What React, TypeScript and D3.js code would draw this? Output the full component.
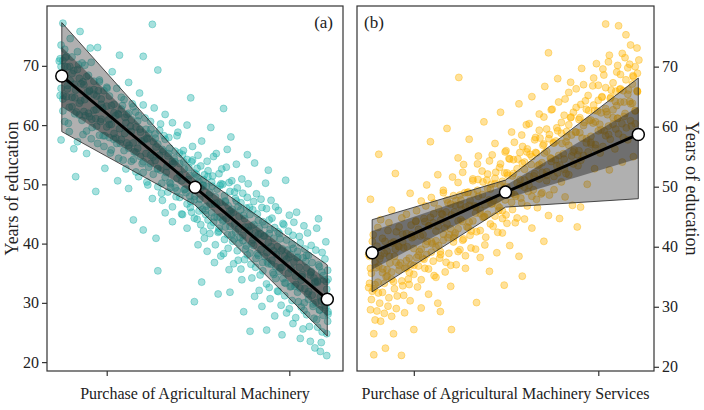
import { useEffect, useRef } from 'react';
import * as d3 from 'd3';

const yTicks = [20, 30, 40, 50, 60, 70];
const xTicks = [0, 1];

// (a) Purchase of Agricultural Machinery
const machineryFitX = [-0.246, 0.484, 1.208];
const machineryFit = [68.3, 49.5, 30.6];
const machineryOuterLo = [58.9, 46.5, 24.4];
const machineryOuterHi = [77.3, 52.1, 36.4];
const machineryInnerLo = [63.1, 48.3, 27.7];
const machineryInnerHi = [73.2, 50.8, 33.9];
const machineryPoints: [number, number][] = [
  [-0.26, 70.8], [-0.25, 73.5], [-0.25, 66.2], [-0.24, 62.4], [-0.25, 57.5], [-0.24, 77.2], [-0.23, 69.9], [-0.22, 64.8],
  [-0.22, 71.6], [-0.21, 60.3], [-0.2, 67.5], [-0.2, 74.6], [-0.19, 63.1], [-0.18, 56.0], [-0.18, 69.2], [-0.17, 51.3],
  [-0.17, 65.9], [-0.16, 72.4], [-0.15, 61.7], [-0.146, 75.8], [-0.14, 67.0], [-0.13, 58.4], [-0.12, 64.3], [-0.12, 70.1],
  [-0.11, 55.2], [-0.1, 62.0], [-0.1, 68.4], [-0.09, 73.0], [-0.08, 59.6], [-0.07, 65.2], [-0.06, 48.8], [-0.06, 61.1],
  [-0.05, 73.1], [-0.05, 56.9], [-0.04, 67.3], [-0.03, 63.5], [-0.02, 58.2], [-0.01, 52.7], [0, 66.4], [0.01, 60.9],
  [0.02, 55.3], [0.03, 69.0], [0.04, 62.1], [0.05, 57.8], [0.06, 50.6], [0.07, 71.8], [0.07, 59.4], [0.08, 64.7],
  [0.09, 54.1], [0.1, 61.3], [0.11, 57.0], [0.12, 67.2], [0.12, 49.3], [0.13, 59.8], [0.14, 63.6], [0.146, 44.0],
  [0.15, 55.5], [0.16, 52.1], [0.17, 60.7], [0.18, 65.4], [0.19, 57.3], [0.2, 71.6], [0.2, 42.3], [0.2, 53.8],
  [0.21, 61.2], [0.22, 50.4], [0.23, 58.6], [0.24, 54.9], [0.25, 77.0], [0.25, 47.6], [0.26, 62.9], [0.27, 40.9],
  [0.27, 56.3], [0.28, 35.4], [0.28, 69.3], [0.28, 52.7], [0.29, 59.1], [0.3, 48.5], [0.31, 55.6], [0.32, 61.8],
  [0.32, 45.2], [0.33, 53.0], [0.34, 57.9], [0.35, 50.1], [0.36, 43.7], [0.36, 60.4], [0.37, 54.3], [0.38, 47.9],
  [0.39, 58.8], [0.4, 51.6], [0.41, 45.0], [0.42, 55.7], [0.43, 49.2], [0.44, 60.0], [0.44, 42.6], [0.45, 52.8],
  [0.46, 64.6], [0.46, 47.1], [0.47, 56.4], [0.48, 30.2], [0.48, 44.3], [0.49, 51.7], [0.5, 39.8], [0.5, 54.9],
  [0.51, 47.5], [0.52, 33.5], [0.52, 57.3], [0.53, 42.1], [0.53, 50.8], [0.54, 45.6], [0.55, 53.9], [0.55, 38.7],
  [0.56, 48.2], [0.57, 59.6], [0.57, 43.0], [0.58, 51.4], [0.59, 36.8], [0.59, 46.7], [0.6, 55.2], [0.61, 31.5],
  [0.61, 41.9], [0.62, 49.8], [0.62, 44.5], [0.63, 52.6], [0.64, 62.8], [0.64, 38.3], [0.65, 47.0], [0.65, 42.8],
  [0.66, 55.9], [0.67, 35.6], [0.67, 50.3], [0.675, 31.8], [0.68, 58.0], [0.68, 45.1], [0.69, 40.4], [0.7, 48.7],
  [0.7, 43.3], [0.71, 53.4], [0.72, 37.2], [0.72, 46.3], [0.73, 41.0], [0.74, 50.9], [0.74, 33.9], [0.75, 28.5],
  [0.75, 44.8], [0.76, 39.1], [0.77, 47.8], [0.77, 55.0], [0.78, 42.2], [0.785, 25.2], [0.79, 36.5], [0.8, 45.7],
  [0.8, 40.6], [0.81, 53.6], [0.81, 31.1], [0.82, 48.4], [0.83, 38.0], [0.83, 43.9], [0.84, 34.7], [0.85, 46.1],
  [0.85, 29.4], [0.86, 41.3], [0.87, 50.2], [0.876, 25.4], [0.88, 36.9], [0.885, 52.4], [0.89, 44.0], [0.89, 32.6],
  [0.9, 39.5], [0.9, 47.3], [0.91, 35.1], [0.92, 42.7], [0.92, 27.8], [0.93, 38.2], [0.94, 45.6], [0.94, 31.9],
  [0.95, 40.8], [0.96, 36.0], [0.96, 24.6], [0.97, 43.2], [0.98, 50.7], [0.98, 33.3], [0.99, 38.9], [1.0, 44.8],
  [1.0, 29.0], [1.01, 35.7], [1.02, 41.4], [1.02, 26.5], [1.03, 32.8], [1.04, 45.3], [1.04, 37.6], [1.05, 30.2],
  [1.06, 40.1], [1.06, 24.0], [1.07, 34.4], [1.08, 43.0], [1.08, 28.7], [1.09, 37.0], [1.1, 31.5], [1.1, 41.8],
  [1.11, 26.0], [1.12, 35.3], [1.12, 39.7], [1.13, 29.8], [1.14, 22.4], [1.14, 33.6], [1.15, 42.6], [1.15, 27.2],
  [1.16, 44.2], [1.16, 36.4], [1.17, 21.8], [1.17, 31.0], [1.18, 38.5], [1.18, 25.1], [1.19, 33.9], [1.2, 29.2],
  [1.2, 40.3], [1.205, 21.1], [1.21, 35.5], [1.21, 26.9],
  [-0.255, 71.2], [-0.255, 65.0], [-0.24, 64.4], [-0.24, 70.9], [-0.23, 72.8], [-0.23, 60.6], [-0.215, 66.1], [-0.215, 69.8],
  [-0.205, 63.0], [-0.205, 58.9], [-0.19, 68.7], [-0.19, 71.5], [-0.175, 61.9], [-0.175, 64.6], [-0.16, 69.4], [-0.16, 57.2],
  [-0.15, 63.7], [-0.15, 67.9], [-0.135, 60.8], [-0.135, 70.5], [-0.125, 66.8], [-0.125, 62.3], [-0.11, 59.0], [-0.11, 68.2],
  [-0.095, 65.7], [-0.095, 61.4], [-0.085, 70.6], [-0.085, 57.7], [-0.07, 62.5], [-0.07, 66.0], [-0.055, 59.8], [-0.055, 64.9],
  [-0.04, 67.6], [-0.04, 58.3], [-0.03, 61.0], [-0.03, 64.4], [-0.015, 56.4], [-0.015, 65.8], [0, 59.7], [0, 63.2],
  [0.015, 64.9], [0.015, 57.9], [0.025, 60.1], [0.025, 55.8], [0.04, 63.5], [0.04, 58.6], [0.055, 66.2], [0.055, 56.9],
  [0.065, 54.4], [0.065, 61.8], [0.08, 57.6], [0.08, 62.7], [0.095, 64.3], [0.095, 55.7], [0.105, 52.6], [0.105, 60.4],
  [0.12, 62.0], [0.12, 56.1], [0.135, 53.9], [0.135, 60.9], [0.145, 57.0], [0.145, 63.1], [0.16, 55.4], [0.16, 59.7],
  [0.175, 51.3], [0.175, 61.6], [0.185, 58.8], [0.185, 54.7], [0.2, 63.4], [0.2, 52.0], [0.215, 55.2], [0.215, 59.3],
  [0.225, 49.9], [0.225, 57.7], [0.24, 60.6], [0.24, 53.5], [0.255, 51.7], [0.255, 57.2], [0.265, 54.0], [0.265, 58.5],
  [0.28, 49.6], [0.28, 56.8], [0.295, 60.2], [0.295, 52.4], [0.305, 47.3], [0.305, 55.9], [0.32, 51.2], [0.32, 57.6],
  [0.335, 54.8], [0.335, 48.7], [0.345, 50.3], [0.345, 56.1], [0.36, 46.2], [0.36, 53.9], [0.375, 55.6], [0.375, 49.4],
  [0.385, 51.0], [0.385, 58.2], [0.4, 47.8], [0.4, 53.5], [0.415, 55.0], [0.415, 44.9], [0.425, 49.1], [0.425, 52.6],
  [0.44, 46.7], [0.44, 54.2], [0.455, 51.5], [0.455, 48.0], [0.465, 53.8], [0.465, 45.3], [0.48, 47.4], [0.48, 51.9],
  [0.495, 52.7], [0.495, 44.1], [0.505, 46.6], [0.505, 50.5], [0.515, 53.1], [0.515, 43.2], [0.525, 49.9], [0.525, 45.8],
  [0.535, 51.6], [0.535, 40.9], [0.545, 46.3], [0.545, 49.7], [0.555, 44.0], [0.555, 52.3], [0.565, 48.6], [0.565, 41.7],
  [0.575, 45.2], [0.575, 50.4], [0.585, 54.7], [0.585, 43.6], [0.595, 47.9], [0.595, 39.8], [0.605, 44.4], [0.605, 49.2],
  [0.615, 51.8], [0.615, 42.6], [0.625, 47.0], [0.625, 37.9], [0.635, 43.8], [0.635, 50.0], [0.645, 48.1], [0.645, 40.7],
  [0.655, 44.2], [0.655, 52.9], [0.665, 46.4], [0.665, 39.2], [0.675, 42.9], [0.675, 48.8], [0.685, 50.6], [0.685, 41.5],
  [0.695, 45.3], [0.695, 36.6], [0.705, 42.0], [0.705, 47.6], [0.715, 49.4], [0.715, 38.8], [0.725, 44.6], [0.725, 40.1],
  [0.735, 46.9], [0.735, 35.7], [0.745, 41.4], [0.745, 48.5], [0.755, 44.2], [0.755, 37.3], [0.765, 39.6], [0.765, 46.0],
  [0.775, 50.1], [0.775, 42.8], [0.785, 38.4], [0.785, 44.9], [0.795, 34.2], [0.795, 43.0], [0.805, 47.1], [0.805, 39.7],
  [0.815, 41.8], [0.815, 36.0], [0.825, 45.0], [0.825, 38.3], [0.835, 32.1], [0.835, 42.6], [0.845, 39.0], [0.845, 47.5],
  [0.855, 43.7], [0.855, 35.4], [0.865, 37.8], [0.865, 41.3], [0.875, 45.9], [0.875, 33.2], [0.885, 40.2], [0.885, 36.6],
  [0.895, 42.4], [0.895, 30.7], [0.905, 37.2], [0.905, 44.3], [0.915, 40.9], [0.915, 34.8], [0.925, 36.1], [0.925, 46.2],
  [0.935, 39.5], [0.935, 32.0], [0.945, 41.7], [0.945, 35.3], [0.955, 29.6], [0.955, 38.8], [0.965, 43.4], [0.965, 34.1],
  [0.975, 37.9], [0.975, 31.2], [0.985, 40.6], [0.985, 28.3], [0.995, 35.0], [0.995, 42.1], [1.005, 38.2], [1.005, 32.7],
  [1.015, 30.4], [1.015, 39.9], [1.025, 36.9], [1.025, 43.6], [1.035, 33.1], [1.035, 27.5], [1.045, 38.7], [1.045, 31.8],
  [1.055, 36.0], [1.055, 41.2], [1.065, 29.3], [1.065, 33.8], [1.075, 37.6], [1.075, 25.6], [1.085, 32.4], [1.085, 39.1],
  [1.095, 35.9], [1.095, 28.0], [1.105, 30.6], [1.105, 38.0], [1.115, 34.7], [1.115, 23.5], [1.125, 36.8], [1.125, 31.3],
  [1.135, 27.4], [1.135, 34.2], [1.145, 30.0], [1.145, 38.9], [1.155, 33.5], [1.155, 25.9], [1.165, 36.1], [1.165, 28.8],
  [1.175, 30.3], [1.175, 23.3], [1.185, 34.6], [1.185, 27.9], [1.195, 37.4], [1.195, 29.6], [1.205, 32.3], [1.205, 24.8],
  [1.212, 28.1], [1.212, 34.0],
  [-0.25, 69.9], [-0.238, 65.0], [-0.226, 71.4], [-0.214, 66.7], [-0.202, 69.9], [-0.19, 64.7], [-0.178, 66.9], [-0.166, 62.2],
  [-0.154, 70.2], [-0.142, 64.1], [-0.13, 67.3], [-0.118, 61.6], [-0.106, 65.6], [-0.094, 65.9], [-0.082, 61.0], [-0.07, 67.4],
  [-0.058, 62.6], [-0.046, 65.8], [-0.034, 60.6], [-0.022, 62.9], [-0.01, 58.2], [0.002, 66.2], [0.014, 60.1], [0.026, 63.3],
  [0.038, 57.6], [0.05, 61.6], [0.062, 61.9], [0.074, 56.9], [0.086, 63.3], [0.098, 58.6], [0.11, 61.8], [0.122, 56.6],
  [0.134, 58.9], [0.146, 54.2], [0.158, 62.2], [0.17, 56.1], [0.182, 59.3], [0.194, 53.5], [0.206, 57.5], [0.218, 57.8],
  [0.23, 52.9], [0.242, 59.3], [0.254, 54.6], [0.266, 57.8], [0.278, 52.6], [0.29, 54.9], [0.302, 50.2], [0.314, 58.2],
  [0.326, 52.0], [0.338, 55.2], [0.35, 49.5], [0.362, 53.5], [0.374, 53.8], [0.386, 48.9], [0.398, 55.3], [0.41, 50.6],
  [0.422, 53.8], [0.434, 48.6], [0.446, 50.8], [0.458, 46.1], [0.47, 54.1], [0.482, 48.0], [0.494, 51.2], [0.506, 45.5],
  [0.518, 49.5], [0.53, 49.8], [0.542, 44.9], [0.554, 51.3], [0.566, 46.6], [0.578, 49.7], [0.59, 44.5], [0.602, 46.8],
  [0.614, 42.1], [0.626, 50.1], [0.638, 44.0], [0.65, 47.2], [0.662, 41.5], [0.674, 45.5], [0.686, 45.8], [0.698, 40.8],
  [0.71, 47.2], [0.722, 42.5], [0.734, 45.7], [0.746, 40.5], [0.758, 42.8], [0.77, 38.1], [0.782, 46.1], [0.794, 40.0],
  [0.806, 43.2], [0.818, 37.5], [0.83, 41.5], [0.842, 41.7], [0.854, 36.8], [0.866, 43.2], [0.878, 38.5], [0.89, 41.7],
  [0.902, 36.5], [0.914, 38.8], [0.926, 34.1], [0.938, 42.0], [0.95, 35.9], [0.962, 39.1], [0.974, 33.4], [0.986, 37.4],
  [0.998, 37.7], [1.01, 32.8], [1.022, 39.2], [1.034, 34.5], [1.046, 37.7], [1.058, 32.5], [1.07, 34.8], [1.082, 30.0],
  [1.094, 38.0], [1.106, 31.9], [1.118, 35.1], [1.13, 29.4], [1.142, 33.4], [1.154, 33.7], [1.166, 28.8], [1.178, 35.2],
  [1.19, 30.5], [1.202, 33.6], [1.212, 28.5],
];

// (b) Purchase of Agricultural Machinery Services
const servicesFitX = [-0.226, 0.497, 1.217];
const servicesFit = [39.0, 49.1, 58.7];
const servicesOuterLo = [32.5, 46.6, 48.0];
const servicesOuterHi = [44.5, 51.1, 68.1];
const servicesInnerLo = [36.2, 48.0, 54.7];
const servicesInnerHi = [42.6, 50.2, 63.3];
const servicesPoints: [number, number][] = [
  [-0.24, 38.4], [-0.235, 47.9], [-0.23, 31.2], [-0.23, 35.6], [-0.22, 42.0], [-0.217, 22.0], [-0.217, 25.5], [-0.21, 33.7],
  [-0.2, 29.3], [-0.2, 40.1], [-0.19, 55.4], [-0.19, 36.8], [-0.18, 27.6], [-0.18, 44.5], [-0.17, 32.4], [-0.16, 38.9],
  [-0.154, 23.1], [-0.15, 35.0], [-0.14, 30.1], [-0.14, 42.7], [-0.13, 37.3], [-0.12, 46.1], [-0.12, 28.4], [-0.11, 25.5],
  [-0.11, 34.2], [-0.1, 52.2], [-0.1, 39.6], [-0.09, 31.8], [-0.08, 43.3], [-0.08, 36.1], [-0.067, 21.9], [-0.06, 33.5],
  [-0.06, 40.8], [-0.05, 29.0], [-0.04, 45.4], [-0.04, 37.7], [-0.03, 34.6], [-0.02, 48.9], [-0.02, 31.0], [-0.01, 41.5],
  [0, 26.2], [0, 36.9], [0.01, 44.2], [0.02, 33.3], [0.03, 39.2], [0.04, 47.6], [0.04, 29.8], [0.05, 42.0],
  [0.06, 36.4], [0.07, 50.3], [0.07, 38.7], [0.08, 32.1], [0.09, 57.5], [0.09, 44.9], [0.1, 40.5], [0.11, 35.2],
  [0.11, 47.3], [0.12, 42.6], [0.13, 30.6], [0.13, 52.0], [0.14, 38.1], [0.144, 29.2], [0.15, 45.5], [0.16, 41.1],
  [0.16, 49.4], [0.17, 35.8], [0.18, 59.7], [0.18, 43.8], [0.19, 38.9], [0.2, 47.1], [0.2, 33.4], [0.204, 26.2],
  [0.21, 51.6], [0.22, 41.9], [0.22, 45.8], [0.23, 37.0], [0.24, 54.8], [0.244, 68.2], [0.24, 43.0], [0.25, 48.6],
  [0.25, 39.5], [0.26, 46.2], [0.27, 41.3], [0.27, 53.7], [0.28, 36.4], [0.29, 49.0], [0.3, 44.1], [0.3, 57.9],
  [0.31, 39.8], [0.32, 51.3], [0.33, 46.8], [0.34, 30.7], [0.34, 42.5], [0.35, 55.1], [0.35, 48.4], [0.36, 38.2],
  [0.37, 52.6], [0.38, 45.0], [0.38, 60.8], [0.39, 41.6], [0.4, 49.7], [0.41, 35.9], [0.41, 54.3], [0.42, 47.1],
  [0.43, 43.4], [0.44, 57.2], [0.44, 50.5], [0.45, 39.0], [0.46, 46.0], [0.47, 53.8], [0.47, 62.4], [0.48, 42.3],
  [0.49, 33.6], [0.49, 49.8], [0.5, 56.0], [0.5, 45.3], [0.51, 51.9], [0.52, 40.2], [0.53, 47.4], [0.53, 59.1],
  [0.54, 54.5], [0.55, 44.0], [0.56, 50.6], [0.57, 63.8], [0.57, 38.4], [0.58, 48.1], [0.588, 35.1], [0.59, 56.7],
  [0.6, 52.9], [0.6, 44.6], [0.61, 60.3], [0.62, 49.2], [0.63, 55.4], [0.64, 43.1], [0.64, 65.0], [0.65, 51.8],
  [0.66, 58.2], [0.67, 46.5], [0.68, 62.1], [0.68, 53.7], [0.69, 48.8], [0.7, 56.9], [0.705, 40.9], [0.71, 66.7],
  [0.72, 51.0], [0.72, 59.6], [0.73, 72.3], [0.73, 45.2], [0.74, 54.8], [0.75, 62.9], [0.76, 49.5], [0.77, 57.6],
  [0.78, 68.0], [0.78, 52.3], [0.79, 44.7], [0.8, 60.7], [0.81, 55.5], [0.82, 64.6], [0.82, 48.3], [0.83, 58.3],
  [0.84, 52.0], [0.85, 67.4], [0.85, 61.5], [0.86, 46.9], [0.87, 56.1], [0.88, 63.2], [0.886, 43.3], [0.89, 53.5],
  [0.9, 59.0], [0.904, 46.6], [0.91, 69.7], [0.92, 55.2], [0.93, 64.3], [0.94, 50.4], [0.95, 61.0], [0.96, 57.4],
  [0.97, 66.8], [0.98, 53.0], [0.98, 62.7], [0.99, 70.5], [1.0, 59.3], [1.01, 55.6], [1.02, 64.9], [1.03, 68.6],
  [1.04, 77.1], [1.04, 58.5], [1.05, 62.0], [1.06, 52.8], [1.06, 71.9], [1.07, 66.1], [1.08, 60.4], [1.09, 56.3],
  [1.1, 69.1], [1.1, 63.5], [1.11, 76.8], [1.11, 58.8], [1.12, 66.3], [1.13, 54.1], [1.13, 72.2], [1.14, 61.7],
  [1.15, 75.3], [1.15, 67.8], [1.16, 57.8], [1.17, 64.2], [1.17, 70.4], [1.18, 60.1], [1.19, 55.0], [1.19, 68.3],
  [1.2, 62.6], [1.21, 73.1], [1.21, 66.0], [1.22, 58.9], [1.22, 71.1],
  [-0.245, 33.2], [-0.245, 38.7], [-0.235, 29.5], [-0.235, 36.4], [-0.225, 40.9], [-0.225, 32.6], [-0.21, 27.8], [-0.21, 37.5],
  [-0.195, 34.1], [-0.195, 43.2], [-0.185, 30.6], [-0.185, 38.0], [-0.17, 35.7], [-0.17, 41.4], [-0.16, 28.9], [-0.16, 33.9],
  [-0.145, 39.3], [-0.145, 36.2], [-0.135, 31.5], [-0.135, 44.0], [-0.12, 35.8], [-0.12, 40.6], [-0.105, 33.0], [-0.105, 38.4],
  [-0.095, 42.5], [-0.095, 29.7], [-0.08, 36.9], [-0.08, 40.0], [-0.065, 34.3], [-0.065, 44.8], [-0.055, 39.8], [-0.055, 31.9],
  [-0.04, 36.5], [-0.04, 42.2], [-0.025, 33.7], [-0.025, 38.1], [-0.015, 43.6], [-0.015, 37.0], [0, 35.4], [0, 41.7],
  [0.015, 38.2], [0.015, 46.0], [0.025, 36.8], [0.025, 42.9], [0.04, 39.6], [0.04, 34.5], [0.055, 44.7], [0.055, 37.9],
  [0.065, 40.4], [0.065, 46.8], [0.08, 36.3], [0.08, 43.5], [0.095, 39.1], [0.095, 48.2], [0.105, 44.0], [0.105, 37.6],
  [0.12, 41.0], [0.12, 34.9], [0.135, 46.3], [0.135, 40.2], [0.145, 38.7], [0.145, 44.4], [0.16, 42.1], [0.16, 49.0],
  [0.175, 37.4], [0.175, 45.8], [0.185, 41.5], [0.185, 47.3], [0.2, 43.0], [0.2, 36.9], [0.215, 48.5], [0.215, 40.8],
  [0.225, 42.3], [0.225, 46.9], [0.24, 39.2], [0.24, 50.7], [0.255, 44.5], [0.255, 47.8], [0.265, 41.1], [0.265, 52.4],
  [0.28, 46.6], [0.28, 38.5], [0.295, 43.2], [0.295, 49.1], [0.305, 47.7], [0.305, 41.9], [0.32, 51.0], [0.32, 44.3],
  [0.335, 45.6], [0.335, 39.6], [0.345, 49.4], [0.345, 53.8], [0.36, 42.7], [0.36, 46.1], [0.375, 50.8], [0.375, 44.9],
  [0.385, 47.0], [0.385, 40.3], [0.4, 52.1], [0.4, 45.4], [0.415, 43.8], [0.415, 49.6], [0.425, 55.3], [0.425, 47.2],
  [0.44, 45.1], [0.44, 51.4], [0.455, 48.0], [0.455, 42.4], [0.465, 53.2], [0.465, 46.5], [0.48, 50.9], [0.48, 44.7],
  [0.495, 47.8], [0.495, 55.8], [0.505, 43.9], [0.505, 52.3], [0.52, 49.1], [0.52, 54.6], [0.535, 46.2], [0.535, 51.8],
  [0.545, 57.4], [0.545, 48.7], [0.56, 53.0], [0.56, 44.8], [0.575, 50.2], [0.575, 55.7], [0.585, 47.3], [0.585, 58.6],
  [0.6, 54.1], [0.6, 49.9], [0.615, 46.8], [0.615, 56.3], [0.625, 51.7], [0.625, 60.5], [0.64, 55.0], [0.64, 48.4],
  [0.655, 52.2], [0.655, 57.8], [0.665, 47.9], [0.665, 55.6], [0.68, 59.4], [0.68, 51.3], [0.695, 54.0], [0.695, 49.0],
  [0.705, 57.1], [0.705, 61.6], [0.72, 52.5], [0.72, 55.9], [0.735, 48.6], [0.735, 58.7], [0.745, 62.8], [0.745, 54.2],
  [0.76, 51.7], [0.76, 57.3], [0.775, 59.8], [0.775, 53.5], [0.785, 55.2], [0.785, 64.1], [0.8, 50.8], [0.8, 58.9],
  [0.815, 61.9], [0.815, 54.6], [0.825, 57.5], [0.825, 52.2], [0.84, 60.3], [0.84, 65.7], [0.855, 55.1], [0.855, 58.6],
  [0.865, 62.4], [0.865, 53.8], [0.88, 59.1], [0.88, 66.3], [0.895, 56.0], [0.895, 61.2], [0.905, 63.7], [0.905, 54.4],
  [0.92, 60.2], [0.92, 67.0], [0.935, 57.3], [0.935, 62.9], [0.945, 65.2], [0.945, 55.8], [0.96, 61.1], [0.96, 58.4],
  [0.975, 68.1], [0.975, 63.6], [0.985, 57.0], [0.985, 60.8], [1.0, 64.4], [1.0, 66.9], [1.015, 59.5], [1.015, 62.3],
  [1.025, 69.6], [1.025, 56.7], [1.04, 63.0], [1.04, 66.5], [1.055, 60.1], [1.055, 70.8], [1.065, 64.7], [1.065, 57.9],
  [1.08, 67.3], [1.08, 62.8], [1.095, 59.6], [1.095, 65.9], [1.105, 70.2], [1.105, 61.4], [1.12, 64.1], [1.12, 68.7],
  [1.135, 58.2], [1.135, 66.0], [1.145, 71.5], [1.145, 62.2], [1.16, 65.4], [1.16, 69.8], [1.175, 61.0], [1.175, 73.6],
  [1.185, 67.1], [1.185, 63.9], [1.2, 70.0], [1.2, 60.5], [1.212, 65.8], [1.212, 68.9],
  [-0.24, 33.9], [-0.228, 38.6], [-0.216, 33.0], [-0.204, 36.5], [-0.192, 32.3], [-0.18, 38.5], [-0.168, 36.3], [-0.156, 40.9],
  [-0.144, 35.1], [-0.132, 38.4], [-0.12, 34.6], [-0.108, 40.8], [-0.096, 37.4], [-0.084, 40.1], [-0.072, 37.3], [-0.06, 42.1],
  [-0.048, 36.4], [-0.036, 40.0], [-0.024, 35.7], [-0.012, 42.0], [0, 39.7], [0.012, 44.3], [0.024, 38.6], [0.036, 41.8],
  [0.048, 38.1], [0.06, 44.2], [0.072, 40.9], [0.084, 43.5], [0.096, 40.8], [0.108, 45.5], [0.12, 39.9], [0.132, 43.4],
  [0.144, 39.2], [0.156, 45.4], [0.168, 43.1], [0.18, 47.8], [0.192, 42.0], [0.204, 45.3], [0.216, 41.5], [0.228, 47.7],
  [0.24, 44.3], [0.252, 47.0], [0.264, 44.2], [0.276, 49.0], [0.288, 43.3], [0.3, 46.9], [0.312, 42.6], [0.324, 48.8],
  [0.336, 46.6], [0.348, 51.2], [0.36, 45.5], [0.372, 48.7], [0.384, 45.0], [0.396, 51.1], [0.408, 47.8], [0.42, 50.4],
  [0.432, 47.7], [0.444, 52.4], [0.456, 46.8], [0.468, 50.3], [0.48, 46.0], [0.492, 52.3], [0.504, 50.0], [0.516, 54.7],
  [0.528, 48.9], [0.54, 52.2], [0.552, 48.4], [0.564, 54.6], [0.576, 51.2], [0.588, 53.9], [0.6, 51.1], [0.612, 55.8],
  [0.624, 50.2], [0.636, 53.7], [0.648, 49.5], [0.66, 55.7], [0.672, 53.5], [0.684, 58.1], [0.696, 52.4], [0.708, 55.6],
  [0.72, 51.9], [0.732, 58.0], [0.744, 54.7], [0.756, 57.3], [0.768, 54.5], [0.78, 59.3], [0.792, 53.6], [0.804, 57.2],
  [0.816, 52.9], [0.828, 59.2], [0.84, 56.9], [0.852, 61.6], [0.864, 55.8], [0.876, 59.1], [0.888, 55.3], [0.9, 61.5],
  [0.912, 58.1], [0.924, 60.7], [0.936, 58.0], [0.948, 62.7], [0.96, 57.1], [0.972, 60.6], [0.984, 56.4], [0.996, 62.6],
  [1.008, 60.4], [1.02, 65.0], [1.032, 59.3], [1.044, 62.5], [1.056, 58.7], [1.068, 64.9], [1.08, 61.5], [1.092, 64.2],
  [1.104, 61.4], [1.116, 66.2], [1.128, 60.5], [1.14, 64.1], [1.152, 59.8], [1.164, 66.1], [1.176, 63.8], [1.188, 68.5],
  [1.2, 62.7], [1.212, 65.9],
];

const FONT = "'Liberation Serif', 'Times New Roman', serif";

interface PanelSpec {
  left: number;
  right: number;
  top: number;
  bottom: number;
  xDomain: [number, number];
  yDomain: [number, number];
  points: [number, number][];
  color: string;
  alpha: number;
  fitX: number[];
  fit: number[];
  outerLo: number[];
  outerHi: number[];
  innerLo: number[];
  innerHi: number[];
  yAxisSide: 'left' | 'right';
  xLabel: string;
  tag: string;
}

const drawPanel = (svg: d3.Selection<SVGSVGElement, unknown, null, undefined>, p: PanelSpec, id: string) => {
  const x = d3.scaleLinear().domain(p.xDomain).range([p.left, p.right]);
  const y = d3.scaleLinear().domain(p.yDomain).range([p.bottom, p.top]);

  svg
    .append('clipPath')
    .attr('id', id)
    .append('rect')
    .attr('x', p.left)
    .attr('y', p.top)
    .attr('width', p.right - p.left)
    .attr('height', p.bottom - p.top);

  const g = svg.append('g').attr('clip-path', `url(#${id})`);

  // scatter
  g.append('g')
    .selectAll('circle')
    .data(p.points)
    .join('circle')
    .attr('cx', (d) => x(d[0]))
    .attr('cy', (d) => y(d[1]))
    .attr('r', 3.5)
    .attr('fill', p.color)
    .attr('fill-opacity', p.alpha)
    .attr('stroke', p.color)
    .attr('stroke-opacity', p.alpha)
    .attr('stroke-width', 1);

  // bands
  const rows = p.fitX.map((v, i) => ({
    x: v,
    fit: p.fit[i],
    oLo: p.outerLo[i],
    oHi: p.outerHi[i],
    iLo: p.innerLo[i],
    iHi: p.innerHi[i],
  }));
  type Row = (typeof rows)[number];

  const outer = d3
    .area<Row>()
    .x((d) => x(d.x))
    .y0((d) => y(d.oLo))
    .y1((d) => y(d.oHi));
  const inner = d3
    .area<Row>()
    .x((d) => x(d.x))
    .y0((d) => y(d.iLo))
    .y1((d) => y(d.iHi));

  g.append('path')
    .attr('d', outer(rows))
    .attr('fill', '#3a3a3a')
    .attr('fill-opacity', 0.4)
    .attr('stroke', '#222')
    .attr('stroke-width', 0.8);
  g.append('path')
    .attr('d', inner(rows))
    .attr('fill', '#222')
    .attr('fill-opacity', 0.45);

  const line = d3
    .line<Row>()
    .x((d) => x(d.x))
    .y((d) => y(d.fit));
  g.append('path')
    .attr('d', line(rows))
    .attr('fill', 'none')
    .attr('stroke', '#000')
    .attr('stroke-width', 3);

  g.append('g')
    .selectAll('circle')
    .data(rows)
    .join('circle')
    .attr('cx', (d) => x(d.x))
    .attr('cy', (d) => y(d.fit))
    .attr('r', 6)
    .attr('fill', '#fff')
    .attr('stroke', '#000')
    .attr('stroke-width', 1.5);

  // frame
  svg
    .append('rect')
    .attr('x', p.left)
    .attr('y', p.top)
    .attr('width', p.right - p.left)
    .attr('height', p.bottom - p.top)
    .attr('fill', 'none')
    .attr('stroke', '#333')
    .attr('stroke-width', 1.2);

  // axes
  const yAxis = p.yAxisSide === 'left' ? d3.axisLeft(y) : d3.axisRight(y);
  const ya = svg
    .append('g')
    .attr('transform', `translate(${p.yAxisSide === 'left' ? p.left : p.right},0)`)
    .call(yAxis.tickValues(yTicks).tickSize(5).tickPadding(3));
  ya.select('.domain').remove();
  ya.selectAll('line').attr('stroke', '#333').attr('stroke-width', 1.2);
  ya.selectAll('text').attr('font-family', FONT).attr('font-size', 16).attr('fill', '#222');

  const xa = svg
    .append('g')
    .attr('transform', `translate(0,${p.bottom})`)
    .call(d3.axisBottom(x).tickValues(xTicks).tickFormat(() => '').tickSize(5));
  xa.select('.domain').remove();
  xa.selectAll('line').attr('stroke', '#333').attr('stroke-width', 1.2);

  svg
    .append('text')
    .attr('x', (p.left + p.right) / 2)
    .attr('y', 399)
    .attr('text-anchor', 'middle')
    .attr('font-family', FONT)
    .attr('font-size', 16)
    .attr('fill', '#222')
    .text(p.xLabel);

  const yl = svg
    .append('text')
    .attr('text-anchor', 'middle')
    .attr('font-family', FONT)
    .attr('font-size', 18)
    .attr('fill', '#222')
    .text('Years of education');
  if (p.yAxisSide === 'left') {
    yl.attr('transform', `translate(${p.left - 29},${(p.top + p.bottom) / 2}) rotate(-90)`);
  } else {
    yl.attr('transform', `translate(${p.right + 32},${(p.top + p.bottom) / 2}) rotate(90)`);
  }

  svg
    .append('text')
    .attr('x', p.yAxisSide === 'left' ? p.right - 10 : p.left + 7)
    .attr('y', 28)
    .attr('text-anchor', p.yAxisSide === 'left' ? 'end' : 'start')
    .attr('font-family', FONT)
    .attr('font-size', 17)
    .attr('fill', '#222')
    .text(p.tag);
};

const App = () => {
  const svgRef = useRef<SVGSVGElement>(null);

  useEffect(() => {
    if (!svgRef.current) return;
    const svg = d3.select(svgRef.current);
    svg.selectAll('*').remove();

    drawPanel(
      svg,
      {
        left: 47,
        right: 343,
        top: 6,
        bottom: 371,
        xDomain: [-0.327, 1.294],
        yDomain: [18.5, 80.1],
        points: machineryPoints,
        color: '#20b2aa',
        alpha: 0.4,
        fitX: machineryFitX,
        fit: machineryFit,
        outerLo: machineryOuterLo,
        outerHi: machineryOuterHi,
        innerLo: machineryInnerLo,
        innerHi: machineryInnerHi,
        yAxisSide: 'left',
        xLabel: 'Purchase of Agricultural Machinery',
        tag: '(a)',
      },
      'clip-a'
    );

    drawPanel(
      svg,
      {
        left: 357,
        right: 654,
        top: 6,
        bottom: 371,
        xDomain: [-0.308, 1.302],
        yDomain: [19.3, 80.1],
        points: servicesPoints,
        color: '#ffb400',
        alpha: 0.4,
        fitX: servicesFitX,
        fit: servicesFit,
        outerLo: servicesOuterLo,
        outerHi: servicesOuterHi,
        innerLo: servicesInnerLo,
        innerHi: servicesInnerHi,
        yAxisSide: 'right',
        xLabel: 'Purchase of Agricultural Machinery Services',
        tag: '(b)',
      },
      'clip-b'
    );
  }, []);

  return (
    <svg
      ref={svgRef}
      width={704}
      height={410}
      style={{ position: 'absolute', left: 0, top: 0, background: '#fff' }}
    />
  );
};

export default App;
